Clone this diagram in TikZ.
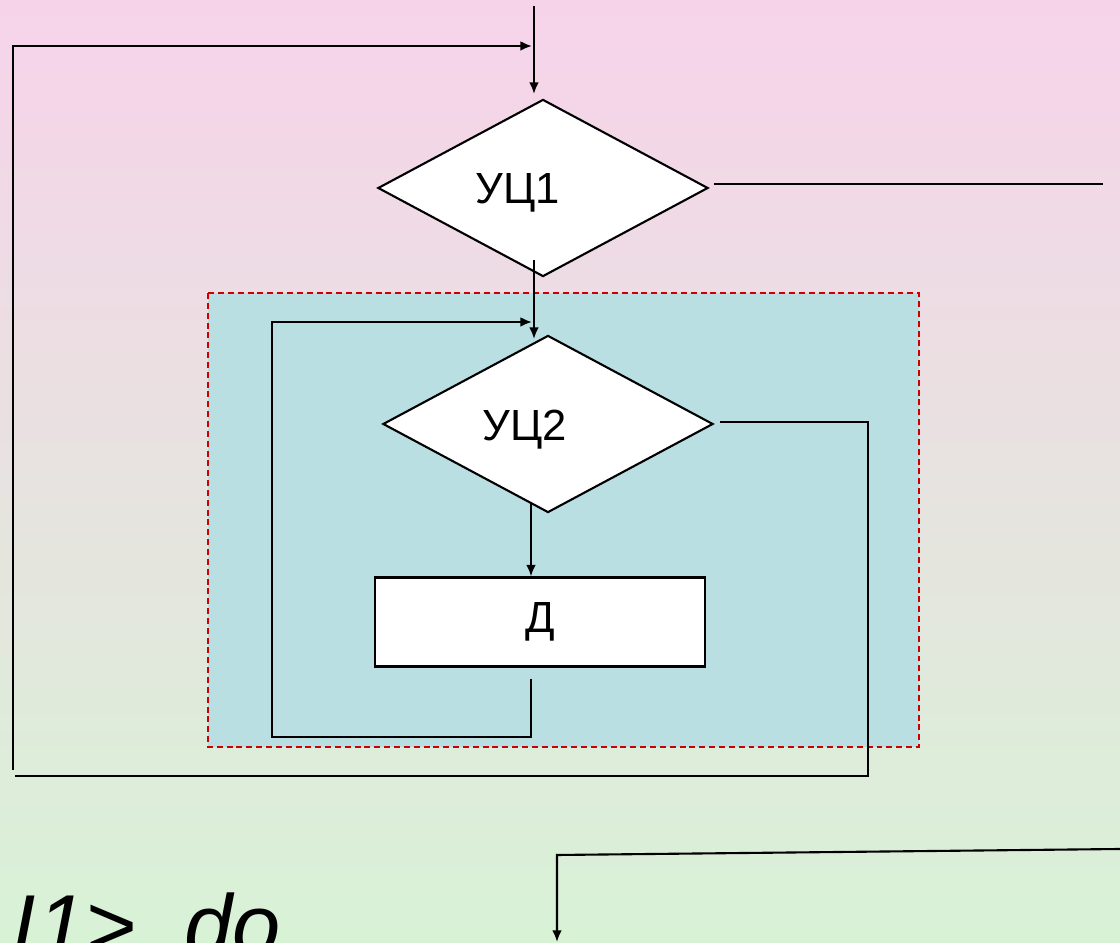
\documentclass[tikz,border=0pt]{standalone}
\usepackage{fontspec}
\setmainfont{Liberation Sans}
\usetikzlibrary{shapes.geometric,arrows.meta,calc}
\definecolor{bgtop}{RGB}{247,211,234}
\definecolor{bgbot}{RGB}{216,242,214}
\definecolor{loopfill}{RGB}{186,223,226}
\definecolor{loopframe}{RGB}{204,0,0}
\tikzset{
  cond/.style={diamond, draw, fill=white, line width=0.6pt, inner sep=0pt, minimum width=3.3cm, minimum height=1.77cm},
  block/.style={rectangle, draw, fill=white, line width=0.6pt, minimum width=3.3cm, minimum height=0.89cm},
  flow/.style={line width=0.6pt, -{Latex[length=3.3pt,width=2.8pt]}},
  wire/.style={line width=0.6pt}
}
\begin{document}
\begin{tikzpicture}[x=0.01cm,y=-0.01cm,font=\fontsize{12.4pt}{14pt}\selectfont]
\useasboundingbox (0,0) rectangle (1120,943);
\clip (0,0) rectangle (1120,943);
\shade[top color=bgtop,bottom color=bgbot] (0,0) rectangle (1120,943);
\draw[loopframe, fill=loopfill, line width=0.55pt, dash pattern=on 1.7pt off 1.1pt] (208,293) rectangle (919,747);

\node[cond, label={[anchor=base,xshift=-0.25cm,yshift=-0.05cm]center:УЦ1}] (c1) at (543,188) {};
\node[cond, label={[anchor=base,xshift=-0.23cm,yshift=-0.06cm]center:УЦ2}] (c2) at (548,424) {};
\node[block] (body) at (540,622) {Д};

\coordinate (start) at (534,6);
\coordinate (exit) at (1103,184);
\coordinate (back) at (15,776);
\coordinate (next) at (1120,849);
\draw[flow] (start) -- (534,94);
\draw[wire] ($(c1.east)+(5,-4)$) -- (exit);
\draw[flow] ($(c1.south)+(-9,-18)$) -- (534,339);
\draw[flow] ($(c2.south)+(-17,-12)$) -- ($(body.north)+(-9,0)$);
\draw[flow] ($(body.south)+(-9,11)$) -- (531,737) -| (272,322) -- (532,322);
\draw[wire] ($(c2.east)+(6,-2)$) -| (868,776) -- (back);
\draw[flow] (13,770) -- (13,46) -- (532,46);
\draw[flow] (next) -- (557,855) -- (557,942);
\node[font=\fontsize{24.6pt}{28pt}\selectfont\itshape, anchor=base east] (hdr) at (293,956) {УЦ1>\ \ do};
\end{tikzpicture}
\end{document}
